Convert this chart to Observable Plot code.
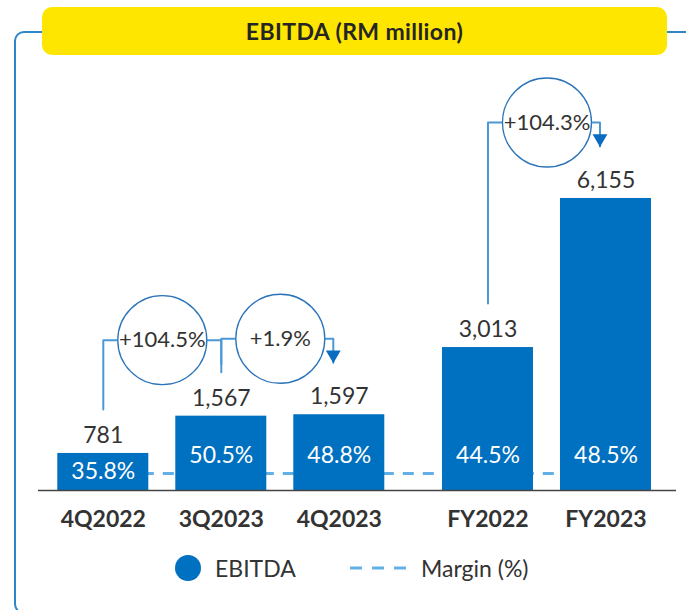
<!DOCTYPE html>
<html><head><meta charset="utf-8">
<script src="https://cdn.jsdelivr.net/npm/d3@7"></script>
<script src="https://cdn.jsdelivr.net/npm/@observablehq/plot@0.6"></script>
<style>
body{margin:0;background:#fff;font-family:Lato,sans-serif;}
#wrap{position:relative;width:686px;height:610px;overflow:hidden;background:#fff;}
#frame{position:absolute;left:14px;top:31px;width:720px;height:583px;border:2px solid #2e86c8;border-radius:10px;box-sizing:border-box;}
#title{position:absolute;left:42px;top:7px;width:625px;height:48px;background:#FFE600;border-radius:10px;display:flex;align-items:center;justify-content:center;font-weight:700;font-size:23px;letter-spacing:0.4px;color:#252525;z-index:2;}
#chart{position:absolute;left:0;top:0;z-index:1;}
#legend{position:absolute;left:0;top:545px;width:686px;height:60px;z-index:1;color:#333;font-size:23px;}
.lg{position:absolute;line-height:26px;white-space:nowrap;}
</style>
</head><body>
<div id="wrap">
  <div id="frame"></div>
  <div id="title">EBITDA (RM million)</div>
  <div id="chart"></div>
  <div id="legend"></div>
</div>
<script>
// ---- data ----
const categories = ["4Q2022", "3Q2023", "4Q2023", "FY2022", "FY2023"];
const groups = ["Quarter", "Quarter", "Quarter", "Year", "Year"];
const ebitda = [781, 1567, 1597, 3013, 6155];
const marginPct = [35.8, 50.5, 48.8, 44.5, 48.5];
const changeFrom = ["4Q2022", "3Q2023", "FY2022"];
const changeTo = ["3Q2023", "4Q2023", "FY2023"];
const changeLabel = ["+104.5%", "+1.9%", "+104.3%"];
const changeArrow = [false, true, true];
const legendLabels = ["EBITDA", "Margin (%)"];

// ---- layout ----
const W = 686, H = 545, mT = 63, mB = 55, mL = 38, mR = 10, yMax = 9000;
const u = 118, x0 = 102.8, groupGap = 0.26;
const upx = yMax / (H - mT - mB);
const barBlue = "#0070C0", lineBlue = "#4a98d6", circleBlue = "#2a73b8", marginBlue = "#62b0e6", ink = "#333";
const slot = c => { const i = categories.indexOf(c); return i + (groups[i] === "Year" ? groupGap : 0); };
const half = 45.5 / u;
const bars = categories.map((c, i) => ({cat: c, x: slot(c), v: ebitda[i], m: marginPct[i]}));

const conns = changeFrom.map((f, k) => {
  const t = changeTo[k];
  const vf = ebitda[categories.indexOf(f)], vt = ebitda[categories.indexOf(t)];
  const level = Math.max(vf, vt) + 76 * upx;
  const xf = slot(f), xt = slot(t) - (changeArrow[k] ? 6 / u : 0);
  const yStart = vf + 44 * upx, yEnd = vt + 52 * upx;
  return {k, label: changeLabel[k], arrow: changeArrow[k],
    pts: [[xf, yStart], [xf, level], [xt, level], [xt, yEnd]],
    cx: (slot(f) + slot(t)) / 2, cy: level, tipX: xt, tipY: yEnd};
});
const connLines = conns.flatMap(c => c.pts.map(p => ({k: c.k, x: p[0], y: p[1]})));
const marginLine = [{y: 17 * upx, x1: slot(categories[0]), x2: slot(categories[categories.length - 1])}];

const chart = Plot.plot({
  width: W, height: H,
  marginTop: mT, marginBottom: mB, marginLeft: mL, marginRight: mR,
  x: {type: "linear", domain: [(mL - x0) / u, (W - mR - x0) / u], axis: null},
  y: {domain: [0, yMax], axis: null},
  style: {background: "transparent", fontFamily: "Lato, sans-serif", overflow: "visible"},
  marks: [
    Plot.ruleY(marginLine, {y: "y", x1: "x1", x2: "x2", stroke: marginBlue, strokeWidth: 3, strokeDasharray: "11,9"}),
    Plot.rect(bars, {x1: d => d.x - half, x2: d => d.x + half, y1: 0, y2: "v", fill: barBlue}),
    Plot.ruleY([0], {stroke: "#444", strokeWidth: 1.5}),
    Plot.text(bars, {x: "x", y: "v", text: d => d3.format(",")(d.v), dy: -18, fontSize: 23, fill: ink}),
    Plot.text(bars, {x: "x", y: d => Math.min(d.v / 2, 35 * upx), text: d => d.m.toFixed(1) + "%", fontSize: 23, fill: "white"}),
    Plot.text(bars, {x: "x", y: 0, dy: 29, text: "cat", fontSize: 23, fontWeight: "bold", fill: ink}),
    Plot.line(connLines, {x: "x", y: "y", z: "k", stroke: lineBlue, strokeWidth: 2}),
    Plot.dot(conns, {x: "cx", y: "cy", r: 44.5, fill: "white", stroke: circleBlue, strokeWidth: 1.3}),
    Plot.text(conns, {x: "cx", y: "cy", text: "label", fontSize: 22, fill: ink}),
    Plot.dot(conns.filter(c => c.arrow), {x: "tipX", y: "tipY", symbol: "triangle", r: 5.5, rotate: 180, dy: -8, fill: "#0a6cbf"})
  ]
});
document.getElementById("chart").appendChild(chart);

// ---- legend ----
const lg = document.getElementById("legend");
lg.innerHTML =
  `<div style="position:absolute;left:175px;top:10px;width:26px;height:26px;border-radius:50%;background:${barBlue}"></div>` +
  `<div class="lg" style="left:215px;top:10px">${legendLabels[0]}</div>` +
  `<svg style="position:absolute;left:350px;top:21px" width="58" height="4"><line x1="0" y1="2" x2="58" y2="2" stroke="${marginBlue}" stroke-width="3" stroke-dasharray="12,10"/></svg>` +
  `<div class="lg" style="left:421px;top:10px">${legendLabels[1]}</div>`;
</script>
</body></html>
